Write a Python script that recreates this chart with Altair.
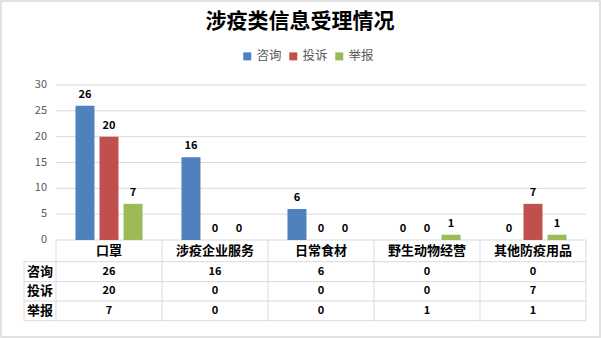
import altair as alt
import pandas as pd

categories = ["口罩", "涉疫企业服务", "日常食材", "野生动物经营", "其他防疫用品"]
series = ["咨询", "投诉", "举报"]
consult = [26, 16, 6, 0, 0]
complaint = [20, 0, 0, 0, 7]
report = [7, 0, 0, 1, 1]
colors = ["#4F81BD", "#C0504D", "#9BBB59"]
y_ticks = [0, 5, 10, 15, 20, 25, 30]
title_text = "涉疫类信息受理情况"

values = {"咨询": consult, "投诉": complaint, "举报": report}
rows = []
for s in series:
    for c, v in zip(categories, values[s]):
        rows.append({"category": c, "series": s, "value": v})
df = pd.DataFrame(rows)
ticks_df = pd.DataFrame({"value": y_ticks})

FONT = "Noto Sans CJK SC"
W, H = 530, 155
PL, PT, PR, PB = 56, 85, 15, 98
GRID = "#d9d9d9"

x_enc = alt.X("category:N", sort=categories, axis=None,
              scale=alt.Scale(paddingInner=0, paddingOuter=0))
xoff = alt.XOffset("series:N", sort=series,
                   scale=alt.Scale(paddingInner=0.21, paddingOuter=0.81))
y_enc = alt.Y("value:Q", scale=alt.Scale(domain=[0, 30], nice=False), axis=None)

# y grid + labels drawn from tick values through the y scale
grid = alt.Chart(ticks_df).mark_rule(color=GRID, strokeWidth=1).encode(
    y=y_enc, x=alt.value(0), x2=alt.value(W))
ylabels = alt.Chart(ticks_df).mark_text(
    align="right", baseline="middle", fontSize=11, font=FONT, color="#595959"
).encode(y=y_enc, x=alt.value(-9), text="value:Q")

base = alt.Chart(df)

bars = base.mark_bar().encode(
    x=x_enc,
    xOffset=xoff,
    y=y_enc,
    color=alt.Color("series:N", sort=series,
                    scale=alt.Scale(domain=series, range=colors),
                    legend=alt.Legend(title=None, orient="none", direction="horizontal",
                                      legendX=185, legendY=-35, symbolType="square",
                                      symbolSize=64, symbolStrokeWidth=0,
                                      labelFontSize=12.5, labelColor="#595959",
                                      labelFont=FONT, columnPadding=5, labelOffset=3)),
)

bar_labels = base.mark_text(baseline="bottom", dy=-6, fontSize=11, fontWeight="bold",
                            font=FONT, color="#000000").encode(
    x=x_enc, xOffset=xoff, y=y_enc, text="value:Q")

title = alt.Chart(pd.DataFrame({"t": [title_text]})).mark_text(
    fontSize=21, fontWeight="bold", font=FONT, color="#000000", baseline="middle"
).encode(x=alt.value(300 - PL), y=alt.value(22 - PT), text="t:N")

# table
hdr_y = 165.5
row_lines = [176.7, 196.7, 216, 235.7]
row_centers = [186.7, 206.3, 225.9]

header = base.transform_filter(alt.datum.series == series[0]).mark_text(
    fontSize=13, fontWeight="bold", font=FONT, color="#000000", baseline="middle"
).encode(x=x_enc, y=alt.value(hdr_y), text="category:N")

layers = [grid, ylabels, bars, bar_labels, title, header]

for i, s in enumerate(series):
    layers.append(base.transform_filter(alt.datum.series == s).mark_text(
        fontSize=11, fontWeight="bold", font=FONT, color="#000000", baseline="middle"
    ).encode(x=x_enc, y=alt.value(row_centers[i]), text="value:Q"))
    layers.append(alt.Chart(pd.DataFrame({"s": [s]})).mark_text(
        fontSize=13, fontWeight="bold", font=FONT, color="#000000", baseline="middle"
    ).encode(x=alt.value(-16), y=alt.value(row_centers[i]), text="s:N"))

for yy in row_lines:
    layers.append(alt.Chart(pd.DataFrame({"a": [0]})).mark_rule(color=GRID, strokeWidth=1).encode(
        x=alt.value(-32), x2=alt.value(W), y=alt.value(yy)))

vlines = base.transform_filter(alt.datum.series == series[0]).mark_rule(
    color=GRID, strokeWidth=1).encode(
    x=alt.X("category:N", sort=categories, bandPosition=0),
    y=alt.value(0 + H), y2=alt.value(row_lines[-1]))
layers.append(vlines)
layers.append(alt.Chart(pd.DataFrame({"a": [0]})).mark_rule(color=GRID, strokeWidth=1).encode(
    x=alt.value(W), y=alt.value(H), y2=alt.value(row_lines[-1])))
layers.append(alt.Chart(pd.DataFrame({"a": [0]})).mark_rule(color=GRID, strokeWidth=1).encode(
    x=alt.value(-32), y=alt.value(row_lines[0]), y2=alt.value(row_lines[-1])))

# outer border
layers.append(alt.Chart(pd.DataFrame({"a": [0]})).mark_rect(
    fill=None, stroke=GRID, strokeWidth=1.5).encode(
    x=alt.value(-PL + 1), x2=alt.value(W + PR - 1),
    y=alt.value(-PT + 1), y2=alt.value(H + PB - 1)))

chart = alt.layer(*layers).properties(
    width=W, height=H,
    padding={"left": PL, "top": PT, "right": PR, "bottom": PB},
    autosize=alt.AutoSizeParams(type="none"),
    background="white",
).configure_view(stroke=None)

chart.save("out.html", embed_options={"renderer": "svg", "actions": False})
